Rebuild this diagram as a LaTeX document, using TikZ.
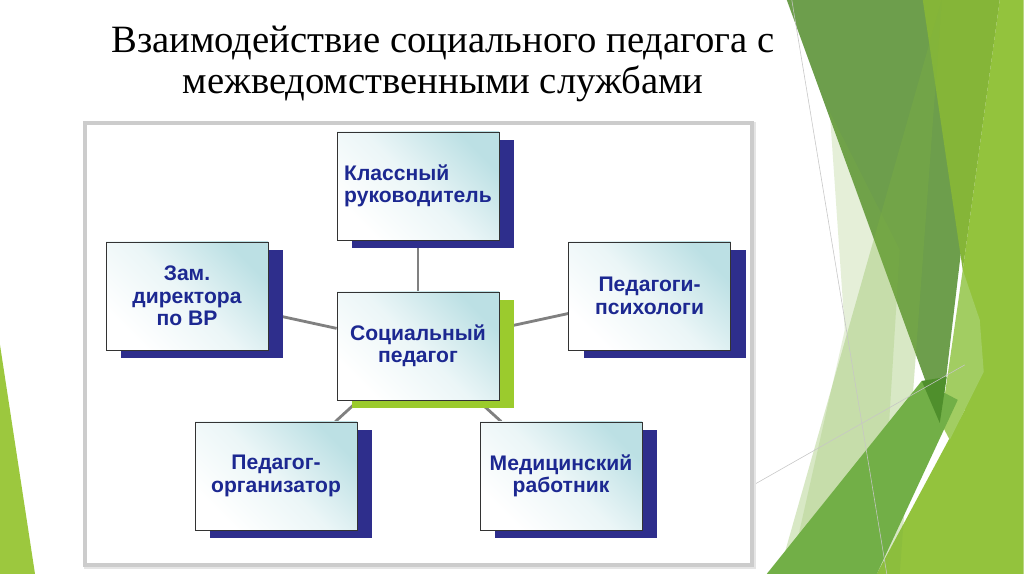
\documentclass[tikz,border=0pt]{standalone}
\usepackage{fontspec}
\setmainfont{Liberation Serif}
\newfontfamily\boxfont{Liberation Sans}
\usetikzlibrary{shadows}
\definecolor{textBlue}{RGB}{28,40,145}
\definecolor{shadowBlue}{RGB}{46,46,140}
\definecolor{shadowGreen}{RGB}{155,203,45}
\definecolor{boxTint}{RGB}{188,224,228}
\definecolor{lineGray}{RGB}{128,128,128}
\definecolor{midGreen}{RGB}{109,158,76}
\definecolor{oliveGreen}{RGB}{133,181,56}
\definecolor{limeGreen}{RGB}{147,195,61}
\definecolor{leafGreen}{RGB}{114,175,71}
\definecolor{darkGreen}{RGB}{79,143,44}
\definecolor{lightLime}{RGB}{162,205,98}
\definecolor{paleGreen}{RGB}{127,179,63}
\definecolor{cornerGreen}{RGB}{156,200,62}
\pgfdeclarelayer{deco}
\pgfdeclarelayer{links}
\pgfsetlayers{deco,links,main}
\tikzstyle{box} = [rectangle, align = center, minimum width = 4.05cm, minimum height = 2.7cm, inner sep = 2pt, draw = black!80, line width = 0.6pt, top color = boxTint, bottom color = white, middle color = boxTint!30!white, shading angle = -45, font = \boxfont\bfseries\fontsize{15pt}{16pt}\selectfont, text = textBlue]
\tikzstyle{service} = [box, drop shadow = {shadow xshift = 0.375cm, shadow yshift = -0.2cm, opacity = 1, fill = shadowBlue}]
\tikzstyle{central} = [box, drop shadow = {shadow xshift = 0.375cm, shadow yshift = -0.2cm, opacity = 1, fill = shadowGreen}]
\tikzstyle{link} = [lineGray, line width = 2pt]

\begin{document}
\begin{tikzpicture}[node distance = 4cm]
\useasboundingbox (0,0) rectangle (25.6,14.35);

% slide background, pixel grid of the slide
\begin{pgfonlayer}{deco}
\fill [white] (0,0) rectangle (25.6,14.35);
\begin{scope}[x = 0.025cm, y = -0.025cm, yshift = 14.35cm]
\fill [cornerGreen] (0,345) -- (35,574) -- (0,574) -- cycle;
\fill [limeGreen] (1000,0) -- (1024,0) -- (1024,574) -- (877,574) -- (965,410) -- (963,270) -- cycle;
\fill [midGreen] (787,0) -- (991,0) -- (941,423) -- cycle;
\fill [oliveGreen] (923,0) -- (1000,0) -- (963,270) -- cycle;
\fill [lightLime] (963,270) -- (980,320) -- (984,372) -- (950,440) -- (941,423) -- cycle;
\fill [paleGreen, opacity = 0.3] (942,0) -- (779,574) -- (900,574) -- cycle;
\fill [paleGreen, opacity = 0.2] (830,112) -- (845,330) -- (790,574) -- (880,574) -- (900,250) -- cycle;
\fill [leafGreen] (767,574) -- (922,381) -- (958,400) -- (877,574) -- cycle;
\fill [darkGreen] (922,381) -- (947,377) -- (940,423) -- cycle;
\draw [gray!45, line width = 0.4pt] (792,0) -- (887,574);
\draw [gray!45, line width = 0.4pt] (752,486) -- (965,365);
\end{scope}
% frame round the scheme
\draw [gray!20, line width = 4pt] (2.165,0.185) rectangle (18.84,11.235);
\draw [gray!40, line width = 2.5pt, fill = white] (2.125,0.225) rectangle (18.8,11.275);
\end{pgfonlayer}

\node (title) at (11.075,12.75) [align = center, font = \fontsize{27.5pt}{29pt}\selectfont] {Взаимодействие социального педагога с\\межведомственными службами};

\node (social) [central] at (10.45,5.7) {Социальный\\педагог};
\node (klass) [service, above of = social, align = left] {Классный\\руководитель};
\node (zam) [service, left of = social, xshift = -1.775cm, yshift = 1.25cm] {Зам.\\директора\\по ВР};
\node (psych) [service, right of = social, xshift = 1.79cm, yshift = 1.25cm] {Педагоги-\\психологи};
\node (org) [service, below of = social, xshift = -3.55cm, yshift = 0.75cm] {Педагог-\\организатор};
\node (med) [service, below of = social, xshift = 3.575cm, yshift = 0.75cm] {Медицинский\\работник};

\begin{pgfonlayer}{links}
\draw [link] (social) -- (klass);
\draw [link] (social) -- (zam);
\draw [link] (social) -- (psych);
\draw [link] (social) -- (org);
\draw [link] (social) -- (med);
\end{pgfonlayer}
\end{tikzpicture}
\end{document}
